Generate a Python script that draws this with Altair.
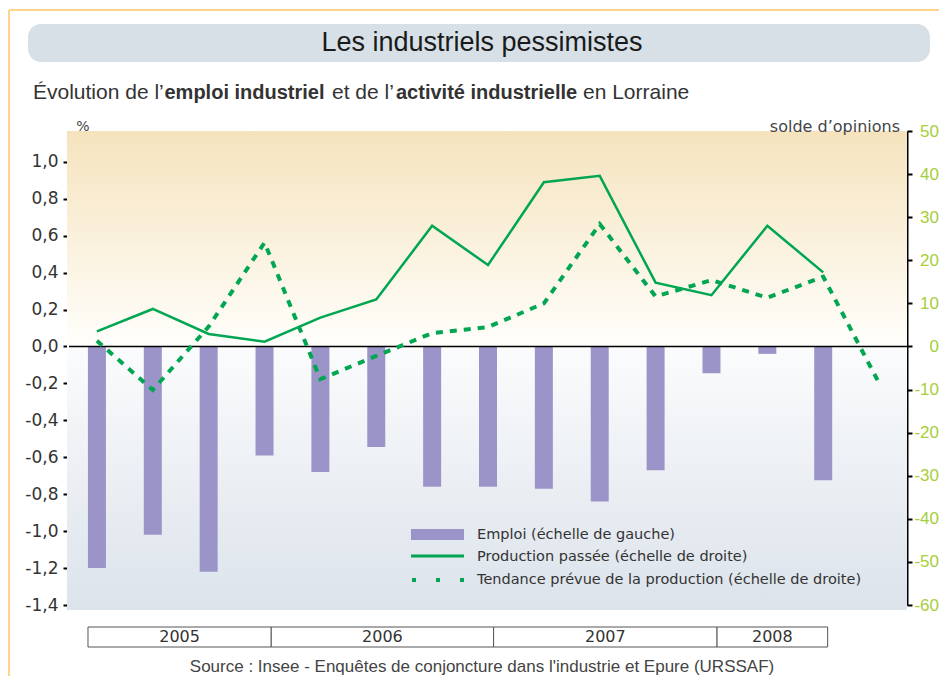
import altair as alt
import pandas as pd

# ---------------- data ----------------
quarters = ["T1 2005", "T2 2005", "T3 2005", "T4 2005",
            "T1 2006", "T2 2006", "T3 2006", "T4 2006",
            "T1 2007", "T2 2007", "T3 2007", "T4 2007",
            "T1 2008", "T2 2008", "T3 2008"]
emploi = [-1.20, -1.02, -1.22, -0.59, -0.68, -0.545, -0.76, -0.76,
          -0.77, -0.84, -0.67, -0.145, -0.04, -0.725]
production = [3.5, 8.7, 2.9, 1.1, 6.7, 10.9, 28.0, 18.9,
              38.1, 39.6, 14.8, 11.9, 28.0, 17.2]
tendance = [1.3, -10.1, 4.6, 24.1, -7.6, -2.2, 3.1, 4.5,
            10.0, 28.4, 11.6, 15.4, 11.3, 16.2, -8.5]
years = ["2005", "2006", "2007", "2008"]
year_start = [0.34, 3.62, 7.6, 11.6]   # in quarter units
year_end = [3.62, 7.6, 11.6, 13.58]
left_ticks = [-1.4, -1.2, -1.0, -0.8, -0.6, -0.4, -0.2, 0.0, 0.2, 0.4, 0.6, 0.8, 1.0]
right_ticks = [-60, -50, -40, -30, -20, -10, 0, 10, 20, 30, 40, 50]

df_emp = pd.DataFrame({"q": quarters[:len(emploi)], "emploi": emploi})
df_emp["pos"] = [i + 0.5 for i in range(len(emploi))]
df_prod = pd.DataFrame({"q": quarters[:len(production)], "prod": production})
df_prod["pos"] = [i + 0.5 for i in range(len(production))]
df_tend = pd.DataFrame({"q": quarters[:len(tendance)], "tend": tendance})
df_tend["pos"] = [i + 0.5 for i in range(len(tendance))]
df_years = pd.DataFrame({"year": years, "start": year_start, "end": year_end})
df_years["mid"] = (df_years["start"] + df_years["end"]) / 2
df_zero = pd.DataFrame({"zero": [0.0]})

# ---------------- styling ----------------
W, H = 838, 474
GREEN = "#00a651"
PURPLE = "#9b94c8"
NUMFONT = "DejaVu Sans"
SANS = "Liberation Sans"
TXT = "#333333"

xscale = alt.Scale(domain=[0, 15], nice=False, zero=False, padding=0)
yl_scale = alt.Scale(domain=[-1.4, 1.4 * 50 / 60], nice=False, zero=False, padding=0)
yr_scale = alt.Scale(domain=[-60, 50], nice=False, zero=False, padding=0)

left_axis = alt.Axis(
    values=left_ticks, title=None, grid=False, orient="left",
    labelExpr="(datum.value < -0.001 ? '-' : '') + replace(format(abs(datum.value), '.1f'), '.', ',')",
    domainColor="black", domainWidth=2, tickColor="black", tickWidth=2, tickSize=6,
    labelFont=NUMFONT, labelFontSize=17, labelColor=TXT, labelPadding=5,
)
right_axis = alt.Axis(
    values=right_ticks, title=None, grid=False, orient="right",
    labelExpr="'' + datum.value",
    domainColor="black", domainWidth=2, tickColor="black", tickWidth=2, tickSize=5,
    labelFont=SANS, labelFontSize=17, labelColor="#a6ce39", labelPadding=26.5,
    labelAlign="right",
)

one = alt.Data(values=[{}])


def txt(s, x, y, size, font=SANS, weight="normal", align="left", color=TXT):
    return alt.Chart(one).mark_text(
        text=s, font=font, fontSize=size, fontWeight=weight, align=align,
        baseline="middle", color=color,
    ).encode(x=alt.value(x), y=alt.value(y))


# background gradient of the plot
bg = alt.Chart(one).mark_rect(
    fill=alt.LinearGradient(
        gradient="linear", x1=0, y1=0, x2=0, y2=1,
        stops=[alt.GradientStop(offset=0, color="#f5e3bd"),
               alt.GradientStop(offset=0.44, color="#fffefa"),
               alt.GradientStop(offset=0.46, color="#fafbfc"),
               alt.GradientStop(offset=1, color="#dce3eb")],
    )
).encode(x=alt.value(-2), x2=alt.value(W), y=alt.value(0), y2=alt.value(H + 5))

bars = alt.Chart(df_emp).mark_bar(size=18, color=PURPLE, orient="vertical").encode(
    x=alt.X("pos:Q", scale=xscale, axis=None),
    y=alt.Y("emploi:Q", scale=yl_scale, axis=left_axis),
)
zero = alt.Chart(df_zero).mark_rule(color="black", strokeWidth=1.5).encode(
    y=alt.Y("zero:Q", scale=yl_scale, axis=left_axis),
    x=alt.value(0), x2=alt.value(W),
)
left = alt.layer(bars, zero)

prod_line = alt.Chart(df_prod).mark_line(color=GREEN, strokeWidth=2.5).encode(
    x=alt.X("pos:Q", scale=xscale, axis=None),
    y=alt.Y("prod:Q", scale=yr_scale, axis=right_axis),
)
tend_line = alt.Chart(df_tend).mark_line(
    color=GREEN, strokeWidth=4, strokeDash=[7, 7], strokeCap="butt"
).encode(
    x=alt.X("pos:Q", scale=xscale, axis=None),
    y=alt.Y("tend:Q", scale=yr_scale, axis=right_axis),
)
right = alt.layer(prod_line, tend_line)

# year boxes below the plot
year_boxes = alt.Chart(df_years).mark_rect(fill="white", stroke="#555555", strokeWidth=1).encode(
    x=alt.X("start:Q", scale=xscale, axis=None), x2="end:Q",
    y=alt.value(496), y2=alt.value(516),
)
year_text = alt.Chart(df_years).mark_text(font=NUMFONT, fontSize=16, color=TXT, baseline="middle").encode(
    x=alt.X("mid:Q", scale=xscale, axis=None), y=alt.value(506), text="year:N",
)

# legend
leg_bar = alt.Chart(one).mark_rect(color=PURPLE).encode(
    x=alt.value(342), x2=alt.value(395), y=alt.value(398), y2=alt.value(409))
leg_line = alt.Chart(one).mark_rule(color=GREEN, strokeWidth=3).encode(
    x=alt.value(342), x2=alt.value(395), y=alt.value(425))
leg_dot = alt.Chart(one).mark_rule(color=GREEN, strokeWidth=4, strokeDash=[4, 20], strokeCap="butt").encode(
    x=alt.value(343), x2=alt.value(395), y=alt.value(449))
LEGFONT = "DejaVu Sans"
leg_t1 = txt("Emploi (échelle de gauche)", 408, 404, 14.5, font=LEGFONT)
leg_t2 = txt("Production passée (échelle de droite)", 408, 426, 14.5, font=LEGFONT)
leg_t3 = txt("Tendance prévue de la production (échelle de droite)", 408, 449, 14.5, font=LEGFONT)

# frame and title box
frame_left = alt.Chart(one).mark_rule(color="#fdd48a", strokeWidth=2).encode(
    x=alt.value(-60), y=alt.value(-121), y2=alt.value(560))
frame_top = alt.Chart(one).mark_rule(color="#fdd48a", strokeWidth=2).encode(
    x=alt.value(-60), x2=alt.value(900), y=alt.value(-121))
title_box = alt.Chart(one).mark_rect(fill="#d6e0e6", cornerRadius=13).encode(
    x=alt.value(-41), x2=alt.value(861), y=alt.value(-107), y2=alt.value(-69))
title = txt("Les industriels pessimistes", 413, -88, 27, align="center", color="#1a1a1a")

sub1 = txt("Évolution de l\u2019", -36, -38, 21)
sub2 = txt("emploi industriel", 95.5, -38, 20, weight="bold")
sub3 = txt("et de l\u2019", 263, -38, 21)
sub4 = txt("activité industrielle", 327, -38, 20, weight="bold")
sub5 = txt("en Lorraine", 514, -38, 21)

pct = txt("%", 14, -4, 14, font=NUMFONT, align="center", color="#444444")
solde = txt("solde d\u2019opinions", 831, -4, 16, font=NUMFONT, align="right", color="#444444")
source = txt("Source : Insee - Enquêtes de conjoncture dans l'industrie et Epure (URSSAF)",
             413, 536, 17, align="center", color="#444444")

chart = alt.layer(
    frame_left, frame_top, title_box, title, sub1, sub2, sub3, sub4, sub5,
    bg, left, right,
    year_boxes, year_text,
    leg_bar, leg_line, leg_dot, leg_t1, leg_t2, leg_t3,
    pct, solde, source,
).resolve_scale(y="independent").properties(
    width=W, height=H,
    autosize=alt.AutoSizeParams(type="none"),
    padding={"left": 61, "top": 123, "right": 32, "bottom": 71},
    background="white",
).configure_view(stroke=None)

chart.save("out.html", embed_options={"renderer": "svg", "actions": False})
